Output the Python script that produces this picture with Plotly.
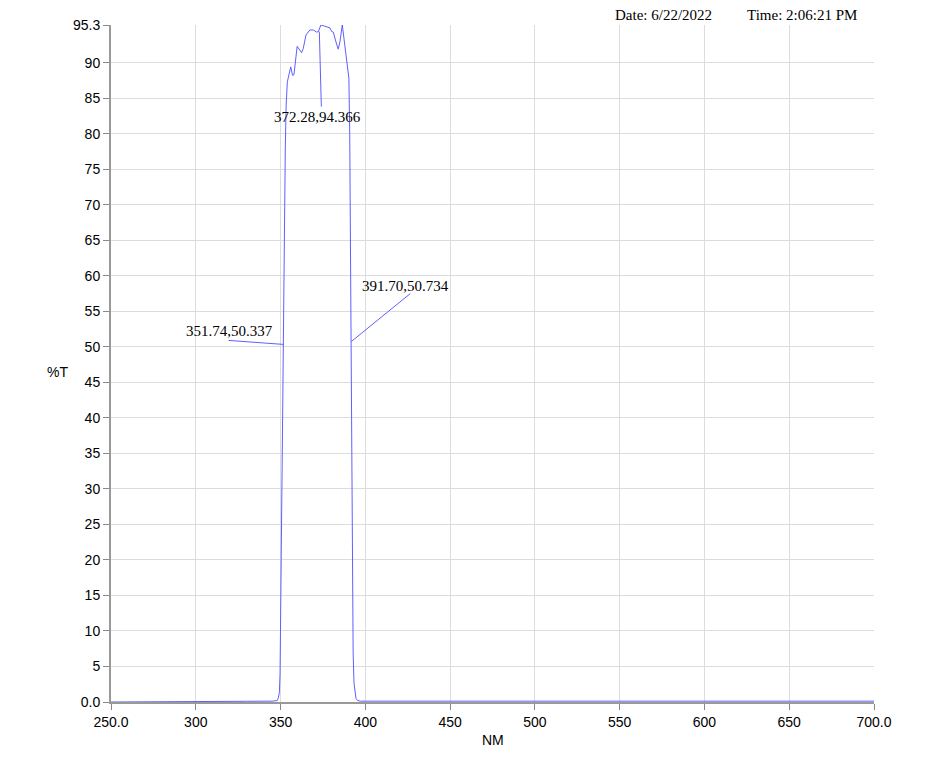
import plotly.graph_objects as go

# ---- data ----
wavelength = [250, 300, 316, 330, 345, 347, 348.0, 348.6, 349.3, 349.7, 350.1, 350.7, 351.2, 351.74,
              352.3, 352.8, 353.3, 354.0, 356.0, 357.1, 357.9, 359.8, 362.4, 363.4, 365.0, 367.3,
              369.3, 371.3, 372.28, 373.8, 375.2, 377.2, 379.1, 380.1, 381.1, 382.7, 384.0, 385.0,
              386.4, 387.4, 389.3, 390.3, 390.8, 391.2, 391.70, 392.1, 392.5, 392.8, 393.3, 394.0,
              394.5, 395.5, 397, 450, 500, 550, 600, 650, 700]
transmission = [0.0, 0.0, 0.05, 0.1, 0.12, 0.15, 0.2, 0.5, 1.3, 4.0, 14.0, 30.0, 44.0, 50.337,
                65.0, 78.0, 84.0, 87.3, 89.4, 88.2, 88.3, 92.3, 91.4, 92.0, 93.9, 94.6,
                94.6, 94.3, 94.366, 95.3, 95.2, 95.0, 94.9, 94.4, 94.3, 92.9, 91.9, 92.9,
                95.3, 93.4, 89.6, 87.8, 80.0, 65.0, 50.734, 35.0, 14.4, 7.0, 2.7, 1.0,
                0.5, 0.2, 0.12, 0.12, 0.12, 0.12, 0.12, 0.12, 0.12]

x_tickvals = [250, 300, 350, 400, 450, 500, 550, 600, 650, 700]
x_ticktext = ["250.0", "300", "350", "400", "450", "500", "550", "600", "650", "700.0"]
y_tickvals = [0, 5, 10, 15, 20, 25, 30, 35, 40, 45, 50, 55, 60, 65, 70, 75, 80, 85, 90, 95.3]
y_ticktext = ["0.0", "5", "10", "15", "20", "25", "30", "35", "40", "45", "50", "55", "60",
              "65", "70", "75", "80", "85", "90", "95.3"]

# marked points: (x, y, label)
marks_x = [372.28, 351.74, 391.70]
marks_y = [94.366, 50.337, 50.734]
marks_label = ["372.28,94.366", "351.74,50.337", "391.70,50.734"]

date_text = "Date: 6/22/2022"
time_text = "Time: 2:06:21 PM"

LINE_COLOR = "rgb(95,95,255)"
SERIF = "Liberation Serif, Times New Roman, serif"
SANS = "Liberation Sans, Arial, sans-serif"

# plot-area geometry in page pixels (page body has an 8px margin)
PL, PR, PT, PB = 111, 874, 25, 702
PW, PH = PR - PL, PB - PT

fig = go.Figure()
fig.add_trace(go.Scatter(x=wavelength, y=transmission, mode="lines",
                         line=dict(color=LINE_COLOR, width=1), hoverinfo="skip",
                         showlegend=False))

# leader-line offsets (pixels) and text offsets (pixels)
leader = [((1, 0), (3, -75)), ((-55, 4), (0, 0)), ((0, 0), (59, 48))]
text_shift = [(-1, -85), (-54, 13), (54, 56)]

for (mx, my, lab, (p0, p1), (sx, sy)) in zip(marks_x, marks_y, marks_label, leader, text_shift):
    fig.add_shape(type="line", xref="x", yref="y",
                  xsizemode="pixel", ysizemode="pixel",
                  xanchor=mx, yanchor=my,
                  x0=p0[0], y0=p0[1], x1=p1[0], y1=p1[1],
                  line=dict(color=LINE_COLOR, width=1))
    fig.add_annotation(x=mx, y=my, xref="x", yref="y", text=lab, showarrow=False,
                       xshift=sx, yshift=sy, font=dict(family=SERIF, size=15, color="black"))

# header texts in paper coords
fig.add_annotation(x=(613 - PL) / PW, y=1 + (PT - 15) / PH, xref="paper", yref="paper",
                   xanchor="left", yanchor="middle", text=date_text, showarrow=False,
                   font=dict(family=SERIF, size=15, color="black"))
fig.add_annotation(x=(745 - PL) / PW, y=1 + (PT - 15) / PH, xref="paper", yref="paper",
                   xanchor="left", yanchor="middle", text=time_text, showarrow=False,
                   font=dict(family=SERIF, size=15, color="black"))
# axis titles
fig.add_annotation(x=(57 - PL) / PW, y=(PB - 372) / PH, xref="paper", yref="paper",
                   xanchor="center", yanchor="middle", text="%T", showarrow=False,
                   font=dict(family=SANS, size=14, color="black"))
fig.add_annotation(x=0.5, y=-(740 - PB) / PH, xref="paper", yref="paper",
                   xanchor="center", yanchor="middle", text="NM", showarrow=False,
                   font=dict(family=SANS, size=14, color="black"))

fig.update_xaxes(range=[250, 700], tickmode="array", tickvals=x_tickvals, ticktext=x_ticktext,
                 showgrid=True, gridcolor="#dcdcdc", gridwidth=1, zeroline=False,
                 showline=True, linecolor="#999999", linewidth=2,
                 ticks="outside", ticklen=6, tickcolor="#888888", tickwidth=1,
                 tickfont=dict(family=SANS, size=14, color="black"))
fig.update_yaxes(range=[0, 95.3], tickmode="array", tickvals=y_tickvals, ticktext=y_ticktext,
                 showgrid=True, gridcolor="#dcdcdc", gridwidth=1, zeroline=False,
                 showline=True, linecolor="#999999", linewidth=2,
                 ticks="outside", ticklen=6, tickcolor="#888888", tickwidth=1,
                 tickfont=dict(family=SANS, size=14, color="black"))

W, H = 920, 753
fig.update_layout(width=W, height=H,
                  margin=dict(l=PL - 8, r=W + 8 - PR, t=PT - 8, b=H + 8 - PB, autoexpand=False),
                  paper_bgcolor="white", plot_bgcolor="white", showlegend=False)

fig.write_html("out.html")
